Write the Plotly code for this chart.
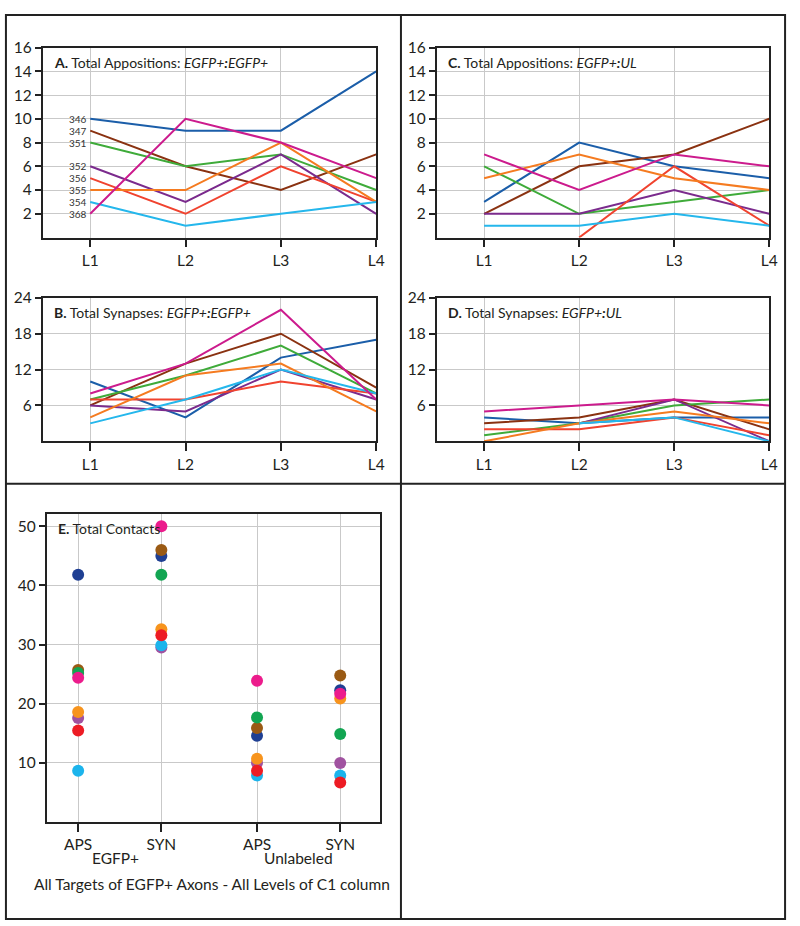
import plotly.graph_objects as go

# ---------------- data ----------------
levels = ["L1", "L2", "L3", "L4"]
axon_ids = ["346", "347", "351", "352", "356", "355", "354", "368"]
line_colors = ["#1b5ea9", "#8a3211", "#3fab3a", "#7b2b8d", "#f0432f", "#f57b20", "#25b7ec", "#cc1b8d"]
dot_colors = ["#1f3f93", "#9a5a14", "#12a552", "#a052a0", "#ed1c24", "#f7941d", "#1cb4ec", "#ec1c8c"]

# A. Total Appositions EGFP+:EGFP+  (rows follow axon_ids)
apps_egfp = [
    [10, 9, 9, 14],
    [9, 6, 4, 7],
    [8, 6, 7, 4],
    [6, 3, 7, 2],
    [5, 2, 6, 3],
    [4, 4, 8, 3],
    [3, 1, 2, 3],
    [2, 10, 8, 5],
]
# B. Total Synapses EGFP+:EGFP+
syn_egfp = [
    [10, 4, 14, 17],
    [6, 13, 18, 9],
    [7, 11, 16, 8],
    [6, 5, 12, 7],
    [7, 7, 10, 8],
    [4, 11, 13, 5],
    [3, 7, 12, 8],
    [8, 13, 22, 7],
]
# C. Total Appositions EGFP+:UL
apps_ul = [
    [3, 8, 6, 5],
    [2, 6, 7, 10],
    [6, 2, 3, 4],
    [2, 2, 4, 2],
    [None, 0, 6, 1],
    [5, 7, 5, 4],
    [1, 1, 2, 1],
    [7, 4, 7, 6],
]
# D. Total Synapses EGFP+:UL
syn_ul = [
    [4, 3, 4, 4],
    [3, 4, 7, 2],
    [1, 3, 6, 7],
    [None, 3, 7, 0],
    [2, 2, 4, 1],
    [0, 3, 5, 3],
    [None, 3, 4, 0],
    [5, 6, 7, 6],
]
# E. Total contacts
contact_types = ["APS", "SYN", "APS", "SYN"]
target_groups = ["EGFP+", "Unlabeled"]
total_contacts = [
    [41.8, 45.0, 14.6, 22.3],
    [25.7, 46.0, 15.9, 24.8],
    [25.2, 41.8, 17.7, 14.9],
    [17.6, 29.5, 10.0, 10.0],
    [15.5, 31.6, 8.7, 6.7],
    [18.6, 32.6, 10.7, 20.9],
    [8.7, 29.9, 7.9, 7.9],
    [24.4, 50.0, 23.9, 21.7],
]
dot_order = [0, 3, 5, 6, 4, 1, 2, 7]

# ---------------- layout helpers ----------------
W, H = 800, 926
FONT = "Lato, 'Open Sans', sans-serif"
TXT = "#231f20"
GRID = "#c9c9c9"


def px_x(a, b):
    return [a / W, b / W]


def px_y(top, bottom):
    return [1 - bottom / H, 1 - top / H]


fig = go.Figure()
layout = dict(
    width=W, height=H, autosize=False, margin=dict(l=0, r=0, t=0, b=0, pad=0),
    paper_bgcolor="white", plot_bgcolor="white", showlegend=False,
    font=dict(family=FONT, color=TXT, size=15),
)


def axis_pair(n, xdom, ydom, xrange, yrange, ytick, xtickvals, xticktext):
    sfx = "" if n == 1 else str(n)
    xa = dict(domain=xdom, range=xrange, tickvals=xtickvals, ticktext=xticktext,
              showgrid=True, gridcolor=GRID, gridwidth=1, zeroline=False,
              showline=True, linecolor="#222", linewidth=1.5, mirror=True,
              ticks="outside", ticklen=8, tickcolor="#222", tickwidth=1.5,
              tickfont=dict(size=15.5, family=FONT, color=TXT),
              anchor="y" + sfx)
    ya = dict(domain=ydom, range=yrange, tickvals=ytick,
              showgrid=True, gridcolor=GRID, gridwidth=1, zeroline=False,
              showline=True, linecolor="#222", linewidth=1.5, mirror=True,
              ticks="outside", ticklen=6, tickcolor="#222", tickwidth=1.5,
              tickfont=dict(size=15.5, family=FONT, color=TXT),
              anchor="x" + sfx)
    layout["xaxis" + sfx] = xa
    layout["yaxis" + sfx] = ya


lx = [1, 2, 3, 4]
axis_pair(1, px_x(43, 380), px_y(38, 230), [0.5, 4], [0, 16], list(range(2, 17, 2)), lx, levels)
axis_pair(2, px_x(43, 380), px_y(291, 436), [0.5, 4], [0, 24], [6, 12, 18, 24], lx, levels)
axis_pair(3, px_x(441, 777), px_y(38, 230), [0.5, 4], [0, 16], list(range(2, 17, 2)), lx, levels)
axis_pair(4, px_x(441, 777), px_y(291, 436), [0.5, 4], [0, 24], [6, 12, 18, 24], lx, levels)

gap = 0.15
ex = [1, 2, 3 + gap, 4 + gap]
axis_pair(5, px_x(47, 384), px_y(510, 821), [0.62, 4.63], [0, 52], [10, 20, 30, 40, 50], ex, contact_types)

panels = [(apps_egfp, 1), (syn_egfp, 2), (apps_ul, 3), (syn_ul, 4)]
for data, n in panels:
    sfx = "" if n == 1 else str(n)
    for i, row in enumerate(data):
        fig.add_trace(go.Scatter(x=lx, y=row, mode="lines", name=axon_ids[i],
                                 line=dict(color=line_colors[i], width=2),
                                 connectgaps=False, cliponaxis=False,
                                 xaxis="x" + sfx, yaxis="y" + sfx))

for i in dot_order:
    fig.add_trace(go.Scatter(x=ex, y=total_contacts[i], mode="markers", name=axon_ids[i],
                             marker=dict(color=dot_colors[i], size=12, line=dict(width=0)),
                             cliponaxis=False, xaxis="x5", yaxis="y5"))

annotations = []
# axon labels at L1 in panel A
for i, row in enumerate(apps_egfp):
    annotations.append(dict(x=1, y=row[0], xref="x", yref="y", text=axon_ids[i],
                            showarrow=False, xanchor="right", yanchor="middle", xshift=-2,
                            borderpad=0,
                            font=dict(size=10, family=FONT, color="#333")))

titles = [
    ("x", "y", 0.5, 16, "<b>A.</b> Total Appositions: <i>EGFP+</i><b><i>:</i></b><i>EGFP+</i>"),
    ("x2", "y2", 0.5, 24, "<b>B.</b> Total Synapses: <i>EGFP+</i><b><i>:</i></b><i>EGFP+</i>"),
    ("x3", "y3", 0.5, 16, "<b>C.</b> Total Appositions: <i>EGFP+</i><b><i>:</i></b><i>UL</i>"),
    ("x4", "y4", 0.5, 24, "<b>D.</b> Total Synapses: <i>EGFP+</i><b><i>:</i></b><i>UL</i>"),
    ("x5", "y5", 0.62, 52, "<b>E.</b> Total Contacts"),
]
for xr, yr, xv, yv, t in titles:
    annotations.append(dict(x=xv, y=yv, xref=xr, yref=yr, text=t, showarrow=False,
                            xanchor="left", yanchor="top", xshift=9, yshift=-4,
                            font=dict(size=14, family=FONT, color=TXT)))

# group labels and caption for panel E
for cx, txt in zip([117, 302], target_groups):
    annotations.append(dict(x=cx / W, y=1 - 857 / H, xref="paper", yref="paper", text=txt,
                            xanchor="center", yanchor="middle",
                            showarrow=False, font=dict(size=15.5, family=FONT, color=TXT)))
annotations.append(dict(x=214 / W, y=1 - 884 / H, xref="paper", yref="paper",
                        text="All Targets of EGFP+ Axons - All Levels of C1 column",
                        xanchor="center", yanchor="middle",
                        showarrow=False, font=dict(size=15.5, family=FONT, color=TXT)))
layout["annotations"] = annotations

line = dict(color="#222", width=2)
layout["shapes"] = [
    dict(type="rect", xref="paper", yref="paper", x0=6 / W, x1=793 / W, y0=1 - 919 / H, y1=1 - 5 / H, line=line),
    dict(type="line", xref="paper", yref="paper", x0=405 / W, x1=405 / W, y0=1 - 919 / H, y1=1 - 5 / H, line=line),
    dict(type="line", xref="paper", yref="paper", x0=6 / W, x1=793 / W, y0=1 - 479 / H, y1=1 - 479 / H, line=line),
]

fig.update_layout(**layout)
fig.write_html("out.html", config={"displayModeBar": False},
               post_script="document.body.style.margin='0';document.body.style.overflow='hidden';")
